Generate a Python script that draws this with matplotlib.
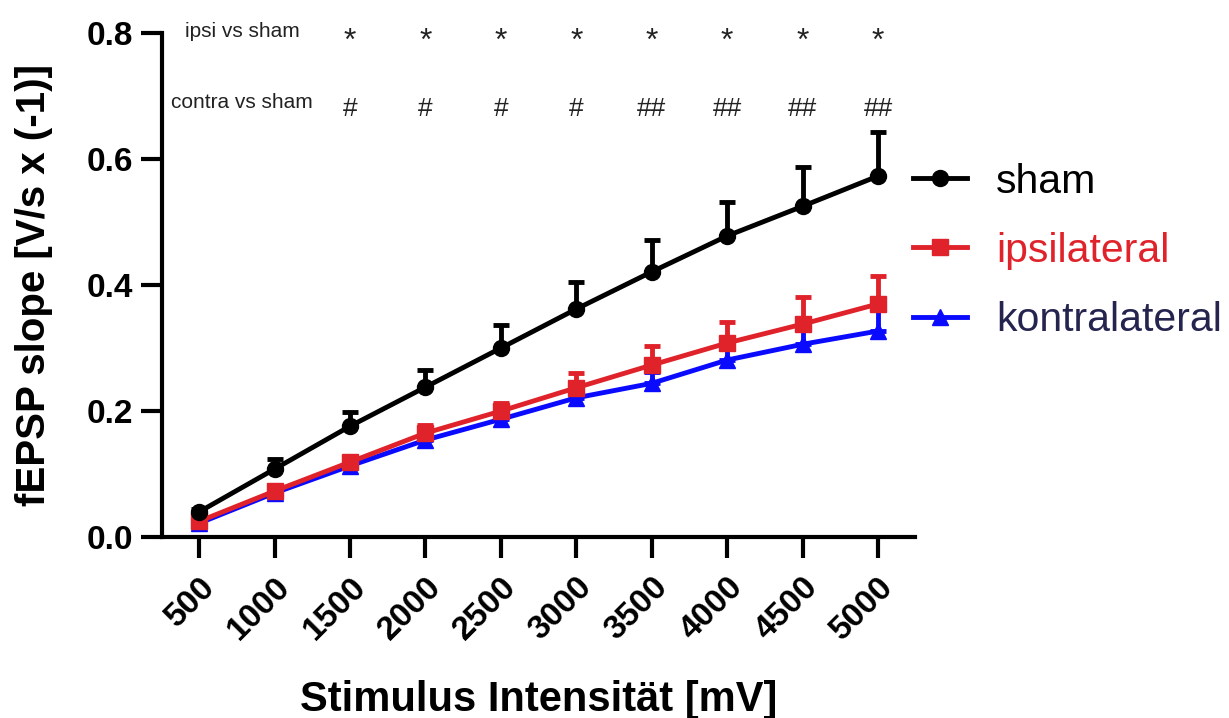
import matplotlib
matplotlib.use("Agg")
import matplotlib.pyplot as plt
import numpy as np

plt.rcParams["font.family"] = ["Liberation Sans", "DejaVu Sans"]

# stimulus intensities (mV)
stim = [500, 1000, 1500, 2000, 2500, 3000, 3500, 4000, 4500, 5000]

# mean fEPSP slope per group
sham = [0.040, 0.108, 0.176, 0.238, 0.300, 0.362, 0.421, 0.478, 0.525, 0.573]
ipsi = [0.025, 0.073, 0.119, 0.165, 0.200, 0.237, 0.273, 0.308, 0.338, 0.370]
kontra = [0.022, 0.070, 0.113, 0.154, 0.187, 0.221, 0.244, 0.281, 0.306, 0.327]

# upper error (SEM)
sham_err = [0.004, 0.016, 0.022, 0.027, 0.037, 0.043, 0.050, 0.054, 0.062, 0.070]
ipsi_err = [0.003, 0.005, 0.008, 0.013, 0.013, 0.023, 0.030, 0.033, 0.043, 0.044]
kontra_err = [0.002, 0.004, 0.006, 0.008, 0.010, 0.014, 0.018, 0.022, 0.027, 0.035]

# significance marks for 1500..5000
sig_x = [1500, 2000, 2500, 3000, 3500, 4000, 4500, 5000]
ipsi_marks = ["*"] * 8
contra_marks = ["#", "#", "#", "#", "##", "##", "##", "##"]

RED = "#e0232b"
BLUE = "#0a0aff"

fig = plt.figure(figsize=(12.29, 7.18), dpi=100)
ax = fig.add_axes([0.132, 0.252, 0.6125, 0.702])

series = [
    ("sham", sham, sham_err, "black", "o", "black"),
    ("ipsilateral", ipsi, ipsi_err, RED, "s", RED),
    ("kontralateral", kontra, kontra_err, BLUE, "^", "#25244f"),
]

handles = []
for z, (lab, y, e, c, m, tc) in zip([6, 5, 4], series):
    ax.errorbar(stim, y, yerr=[np.zeros(len(e)), e], fmt="none", ecolor=c,
                elinewidth=3.5, capsize=5.5, capthick=3.5, zorder=z)
    h, = ax.plot(stim, y, color=c, lw=3.5, marker=m, ms=11.5, zorder=z + 0.5,
                 label=lab)
    handles.append(h)

ax.set_xlim(255, 5245)
ax.set_ylim(0, 0.8)
ax.set_xticks(stim)
ax.set_xticklabels([str(s) for s in stim], rotation=45, ha="right",
                   rotation_mode="anchor", fontsize=24, fontweight="bold")
ax.set_yticks([0, 0.2, 0.4, 0.6, 0.8])
ax.set_yticklabels(["0.0", "0.2", "0.4", "0.6", "0.8"], fontsize=24,
                   fontweight="bold")
ax.tick_params(axis="both", length=15, width=3, direction="out")
ax.tick_params(axis="y", pad=6)
ax.tick_params(axis="x", pad=10)
for s in ["top", "right"]:
    ax.spines[s].set_visible(False)
for s in ["left", "bottom"]:
    ax.spines[s].set_linewidth(3)

ax.set_ylabel("fEPSP slope [V/s x (-1)]", fontsize=29, fontweight="bold",
              labelpad=24)
ax.set_xlabel("Stimulus Intensität [mV]", fontsize=30, fontweight="bold",
              labelpad=24)

# significance annotations
ax.text(785, 0.803, "ipsi vs sham", fontsize=15, ha="center", va="center",
        color="#222222")
ax.text(785, 0.689, "contra vs sham", fontsize=15, ha="center", va="center",
        color="#222222")
for x, s1, s2 in zip(sig_x, ipsi_marks, contra_marks):
    ax.text(x, 0.786, s1, fontsize=23, ha="center", va="center",
            color="#222222")
    ax.text(x, 0.679, s2, fontsize=19, ha="center", va="center",
            color="#222222")

leg = ax.legend(handles=handles, loc="upper left", bbox_to_anchor=(0.949, 0.816),
                frameon=False, fontsize=29.5, handlelength=1.3,
                handletextpad=0.72, labelspacing=0.76)
for t, (lab, y, e, c, m, tc) in zip(leg.get_texts(), series):
    t.set_color(tc)

fig.savefig("out.png", dpi=100)
